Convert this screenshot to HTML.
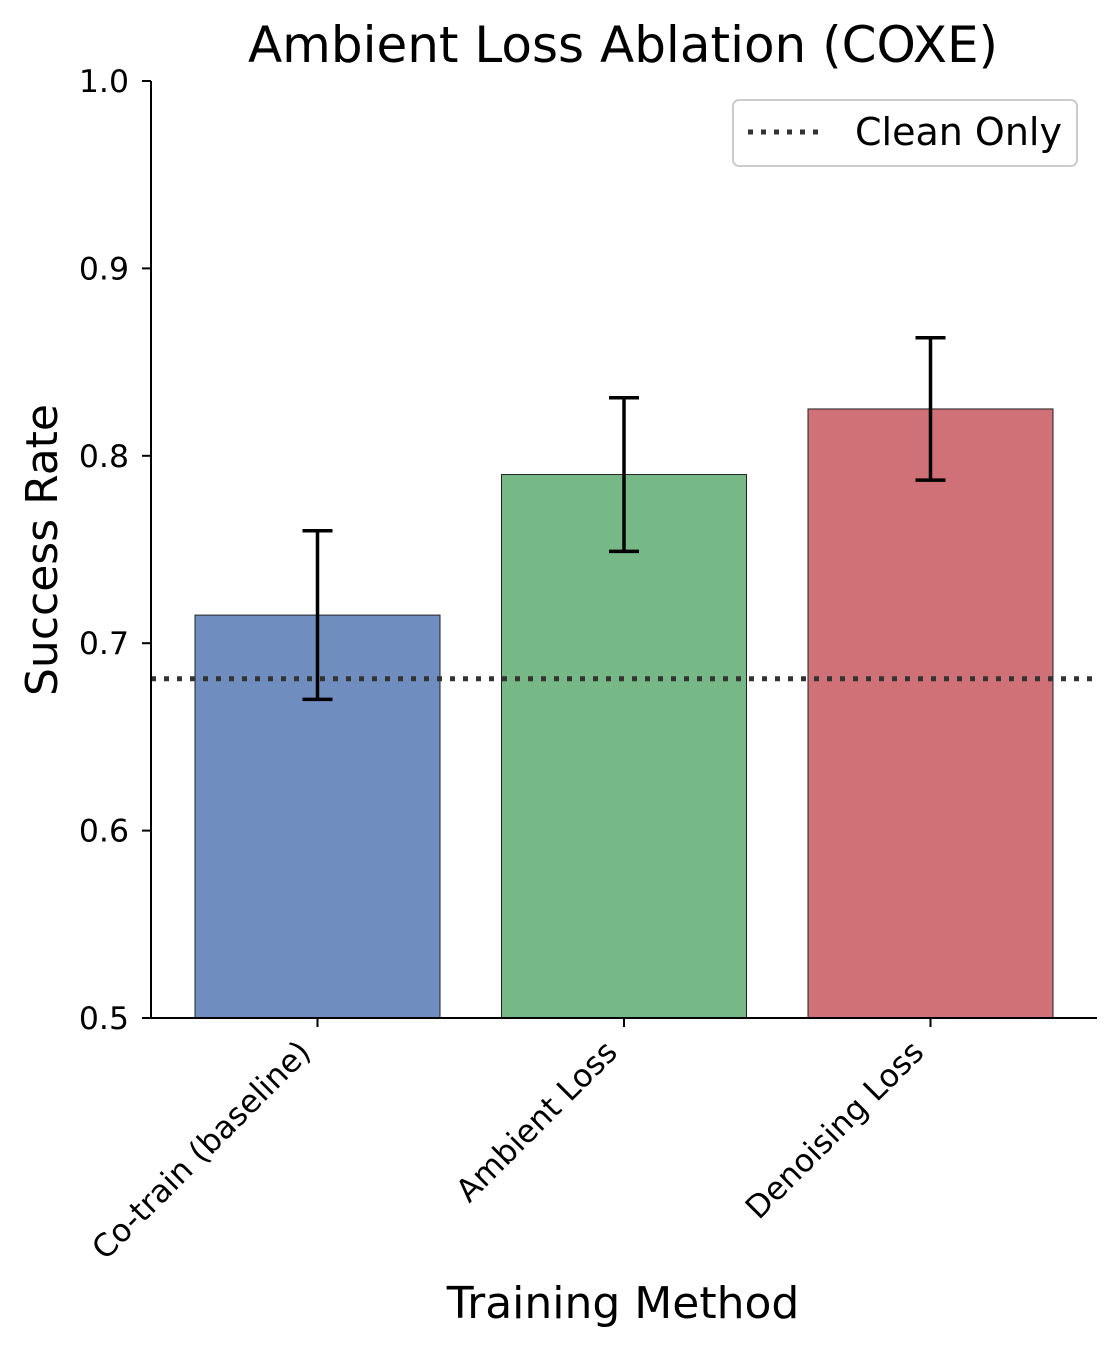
<!DOCTYPE html>
<html><head><meta charset="utf-8"><style>
body{margin:0;background:#fff}
svg{display:block;font-family:"DejaVu Sans","Liberation Sans",sans-serif}
</style></head><body>
<svg id="chart" width="1119" height="1350" viewBox="0 0 1119 1350">
<text x="623" y="62" font-size="50" text-anchor="middle" fill="#000">Ambient Loss Ablation (COXE)</text>
<g id="bars"></g>
<g id="axes"></g>
<text transform="translate(57,550) rotate(-90)" font-size="44" text-anchor="middle" fill="#000">Success Rate</text>
<text x="623" y="1318" font-size="44" text-anchor="middle" fill="#000">Training Method</text>
<g>
<rect x="733" y="100" width="344" height="66" rx="6" fill="#fff" stroke="#ccc" stroke-width="2"/>
<line x1="748" y1="132" x2="826" y2="132" stroke="#333" stroke-width="5" stroke-dasharray="5 8"/>
<text x="855" y="145" font-size="38" fill="#000">Clean Only</text>
</g>
</svg>
<script>
const categories = ["Co-train (baseline)", "Ambient Loss", "Denoising Loss"];
const values = [0.715, 0.790, 0.825];
const errors = [0.045, 0.041, 0.038];
const colors = ["#6f8ebf", "#77b887", "#cf7176"];
const cleanOnly = 0.681;
const yTicks = [0.5, 0.6, 0.7, 0.8, 0.9, 1.0];
const yTickLabels = ["0.5", "0.6", "0.7", "0.8", "0.9", "1.0"];

const NS = "http://www.w3.org/2000/svg";
const yScale = v => 1018 - (v - 0.5) / 0.5 * 937;
const xScale = i => 317.5 + i * 306.5;
const bw = 245;
function mk(tag, attrs, parent) { const e = document.createElementNS(NS, tag); for (const k in attrs) e.setAttribute(k, attrs[k]); parent.appendChild(e); return e; }
const bars = document.getElementById("bars");
const axes = document.getElementById("axes");
categories.forEach((c, i) => {
  const cx = xScale(i);
  const r = mk("rect", {x: cx - bw/2, y: yScale(values[i]), width: bw, height: yScale(0.5) - yScale(values[i]), fill: colors[i], stroke: "#222", "stroke-width": 1}, bars);
  
  
  const g = mk("g", {stroke: "#000", "stroke-width": 3.5}, bars);
  
  
  const t = yScale(values[i] + errors[i]), b = yScale(values[i] - errors[i]);
  mk("line", {x1: cx, x2: cx, y1: t, y2: b}, g);
  mk("line", {x1: cx - 15, x2: cx + 15, y1: t, y2: t}, g);
  mk("line", {x1: cx - 15, x2: cx + 15, y1: b, y2: b}, g);
  const tk = mk("line", {x1: cx, x2: cx, y1: 1018, y2: 1027, stroke: "#000", "stroke-width": 2}, axes);
  
  
  const lb = mk("text", {transform: `translate(${cx - 5},${1054}) rotate(-45)`, "text-anchor": "end", "font-size": 31.5, fill: "#000"}, axes);
  lb.textContent = c;
  
  
});
const cl = mk("line", {x1: 151, x2: 1097, y1: yScale(cleanOnly), y2: yScale(cleanOnly), stroke: "#333", "stroke-width": 5, "stroke-dasharray": "5 8"}, bars);


yTicks.forEach((v, i) => {
  const y = yScale(v);
  const tk = mk("line", {x1: 142, x2: 151, y1: y, y2: y, stroke: "#000", "stroke-width": 2}, axes);
  
  
  const t = mk("text", {x: 129, y: y + 11, "text-anchor": "end", "font-size": 31.5, fill: "#000"}, axes);
  t.textContent = yTickLabels[i];
  
  
});
const ya = mk("line", {x1: 151, x2: 151, y1: 81, y2: 1018, stroke: "#000", "stroke-width": 2}, axes);


const xa = mk("line", {x1: 150, x2: 1097, y1: 1018, y2: 1018, stroke: "#000", "stroke-width": 2}, axes);


</script>
</body></html>
